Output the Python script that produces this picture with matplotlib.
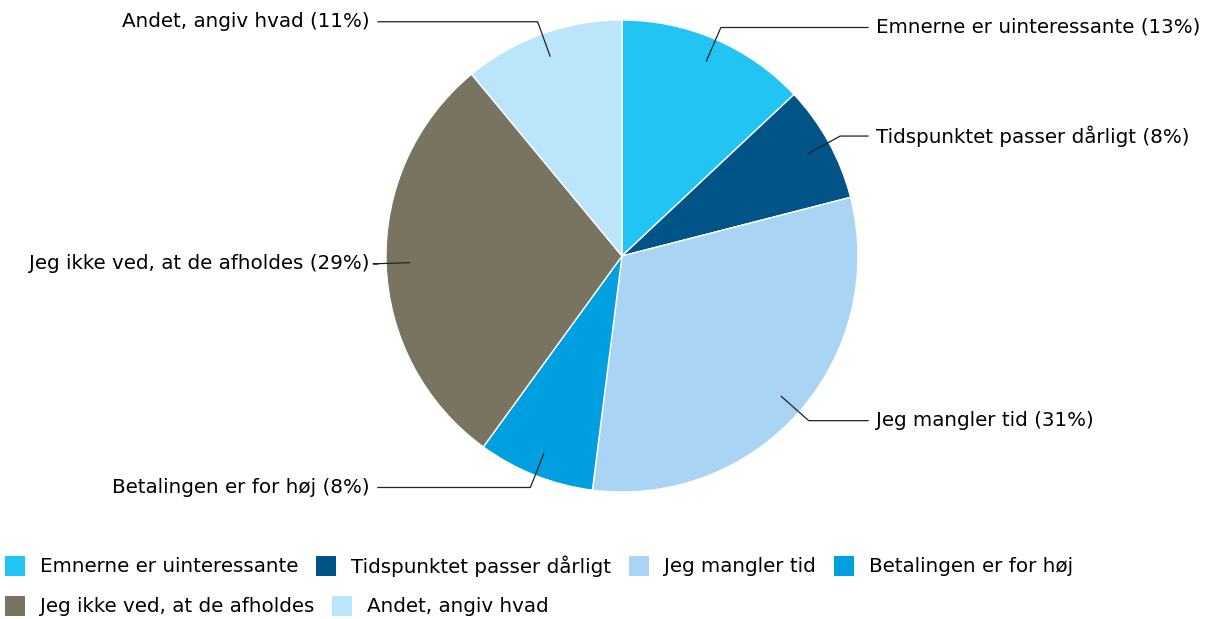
import numpy as np
import matplotlib
matplotlib.use("Agg")
import matplotlib.pyplot as plt
from matplotlib.patches import Rectangle

labels = ["Emnerne er uinteressante", "Tidspunktet passer dårligt", "Jeg mangler tid",
          "Betalingen er for høj", "Jeg ikke ved, at de afholdes", "Andet, angiv hvad"]
values = [13, 8, 31, 8, 29, 11]
colors = ["#21C4F3", "#005487", "#A9D4F4", "#009FE0", "#787461", "#BAE5FA"]

W, H = 1214, 619
plt.rcParams["font.family"] = ["DejaVu Sans"]
fs = 14.3

fig = plt.figure(figsize=(W / 100, H / 100), dpi=100)
ax = fig.add_axes([0, 0, 1, 1])

cx, cy, R = 622, H - 256, 236
wedges, _ = ax.pie(values, colors=colors, startangle=90, counterclock=False,
                   center=(cx, cy), radius=R, frame=True,
                   wedgeprops=dict(edgecolor="white", linewidth=1))
ax.set_xlim(0, W)
ax.set_ylim(0, H)
ax.set_aspect("equal")
ax.axis("off")

# leader lines + labels
total = sum(values)
cum = 0
for lab, v in zip(labels, values):
    mid = (cum + v / 2) / total * 2 * np.pi
    cum += v
    dx, dy = np.sin(mid), np.cos(mid)
    p0 = (cx + 0.9 * R * dx, cy + 0.9 * R * dy)
    p1 = (cx + 1.055 * R * dx, cy + 1.055 * R * dy)
    txt = f"{lab} ({v}%)"
    if dx >= 0:
        xe, ha, xt = 868, "left", 876
    else:
        xe, ha, xt = 378, "right", 370
    ax.plot([p0[0], p1[0], xe], [p0[1], p1[1], p1[1]], color="#222222", lw=0.9)
    ax.text(xt, p1[1], txt, ha=ha, va="center", fontsize=fs, color="black")

# legend, flowing left to right
fig.canvas.draw()
renderer = fig.canvas.get_renderer()
x, y = 5, H - 566
sq = 20
for lab, c in zip(labels, colors):
    t = ax.text(0, 0, lab, fontsize=fs, va="center")
    w = t.get_window_extent(renderer).width
    t.remove()
    if x + sq + 15 + w > W:
        x = 5
        y -= 40
    ax.add_patch(Rectangle((x, y - sq / 2), sq, sq, color=c, lw=0))
    ax.text(x + sq + 15, y, lab, fontsize=fs, va="center", color="black")
    x += sq + 15 + w + 18

fig.savefig("out.png", dpi=100)
